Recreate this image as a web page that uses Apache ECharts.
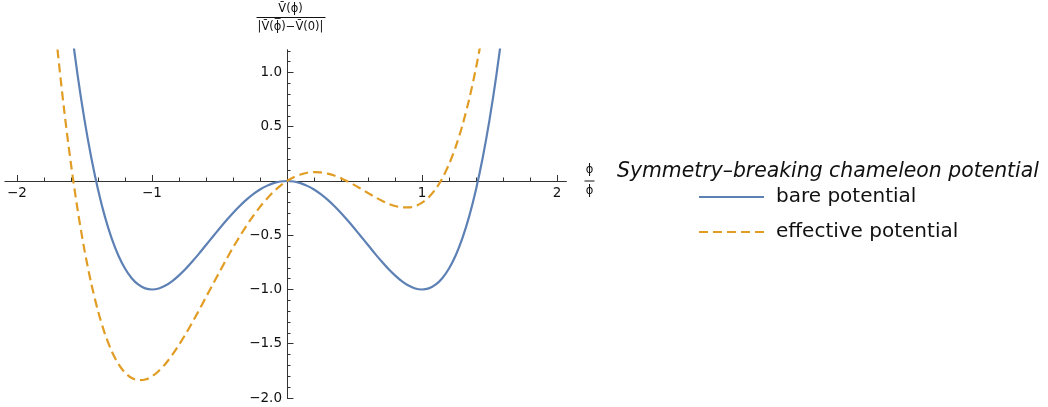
<!DOCTYPE html>
<html>
<head>
<meta charset="utf-8">
<script src="https://cdn.jsdelivr.net/npm/echarts@6/dist/echarts.min.js"></script>
<style>
  html, body { margin: 0; padding: 0; background: #fff; }
  #chart { width: 1048px; height: 407px; }
</style>
</head>
<body>
<div id="chart"></div>
<script>
// Field values ϕ/ϕ̄ at which both potentials are sampled
const phi = [
  -1.75, -1.70, -1.65, -1.60, -1.55, -1.50, -1.45, -1.40, -1.35, -1.30,
  -1.25, -1.20, -1.15, -1.10, -1.05, -1.00, -0.95, -0.90, -0.85, -0.80,
  -0.75, -0.70, -0.65, -0.60, -0.55, -0.50, -0.45, -0.40, -0.35, -0.30,
  -0.25, -0.20, -0.15, -0.10, -0.05, 0.00, 0.05, 0.10, 0.15, 0.20,
  0.25, 0.30, 0.35, 0.40, 0.45, 0.50, 0.55, 0.60, 0.65, 0.70,
  0.75, 0.80, 0.85, 0.90, 0.95, 1.00, 1.05, 1.10, 1.15, 1.20,
  1.25, 1.30, 1.35, 1.40, 1.45, 1.50, 1.55, 1.60, 1.65, 1.70, 1.75
];

// Bare (symmetric double-well) potential
const bare = [
  3.254, 2.572, 1.967, 1.434, 0.967, 0.563, 0.216, -0.078, -0.324, -0.524,
  -0.684, -0.806, -0.896, -0.956, -0.990, -1.000, -0.991, -0.964, -0.923, -0.870,
  -0.809, -0.740, -0.667, -0.590, -0.514, -0.438, -0.364, -0.294, -0.230, -0.172,
  -0.121, -0.078, -0.045, -0.020, -0.005, 0.000, -0.005, -0.020, -0.045, -0.078,
  -0.121, -0.172, -0.230, -0.294, -0.364, -0.438, -0.514, -0.590, -0.667, -0.740,
  -0.809, -0.870, -0.923, -0.964, -0.991, -1.000, -0.990, -0.956, -0.896, -0.806,
  -0.684, -0.524, -0.324, -0.078, 0.216, 0.563, 0.967, 1.434, 1.967, 2.572, 3.254
];

// Effective (tilted) potential
const effective = [
  1.854, 1.212, 0.647, 0.154, -0.273, -0.638, -0.945, -1.198, -1.404, -1.564,
  -1.684, -1.766, -1.816, -1.836, -1.830, -1.800, -1.751, -1.684, -1.603, -1.510,
  -1.409, -1.300, -1.187, -1.070, -0.954, -0.838, -0.724, -0.614, -0.510, -0.412,
  -0.321, -0.238, -0.165, -0.100, -0.045, 0.000, 0.035, 0.060, 0.076, 0.082,
  0.079, 0.068, 0.050, 0.026, -0.004, -0.038, -0.074, -0.110, -0.147, -0.180,
  -0.209, -0.230, -0.243, -0.244, -0.231, -0.200, -0.150, -0.076, 0.024, 0.154,
  0.316, 0.516, 0.757, 1.042, 1.376, 1.763, 2.207, 2.714, 3.287, 3.932, 4.654
];

// Tick positions
const xMajorTicks = [-2, -1, 1, 2];
const xMinorTicks = [-1.8, -1.6, -1.4, -1.2, -0.8, -0.6, -0.4, -0.2,
                     0.2, 0.4, 0.6, 0.8, 1.2, 1.4, 1.6, 1.8];
const yMajorTicks = [-2, -1.5, -1, -0.5, 0.5, 1];
const yMinorTicks = [-1.9, -1.8, -1.7, -1.6, -1.4, -1.3, -1.2, -1.1,
                     -0.9, -0.8, -0.7, -0.6, -0.4, -0.3, -0.2, -0.1,
                     0.1, 0.2, 0.3, 0.4, 0.6, 0.7, 0.8, 0.9, 1.1, 1.2];

const seriesNames = ['bare potential', 'effective potential'];
const legendTitle = 'Symmetry\u2013breaking chameleon potential';

const X_MIN = -2.09, X_MAX = 2.07, Y_MIN = -2.0, Y_MAX = 1.21;
const FONT = 'DejaVu Sans';
const AXIS_COLOR = '#333';
const TEXT_COLOR = '#111';

// Plot frame in pixels; the axes cross at the origin inside it
const PLOT = { left: 4.85, top: 49.7, width: 561.6, height: 348.3 };
const originX = PLOT.left + PLOT.width * (0 - X_MIN) / (X_MAX - X_MIN);
const originY = PLOT.top + PLOT.height * (Y_MAX - 0) / (Y_MAX - Y_MIN);

const minus = s => String(s).replace('-', '\u2212');
const pairs = ys => phi.map((x, i) => [x, ys[i]]);

const gridBase = { containLabel: false, outerBoundsMode: 'none' };
// 0: data area, 1-2: horizontal axis (bottom edge on y = 0), 3-4: vertical axis (left edge on x = 0)
const grids = [
  Object.assign({}, gridBase, PLOT),
  Object.assign({}, gridBase, { left: PLOT.left, width: PLOT.width, top: PLOT.top, height: originY - PLOT.top }),
  Object.assign({}, gridBase, { left: PLOT.left, width: PLOT.width, top: PLOT.top, height: originY - PLOT.top }),
  Object.assign({}, gridBase, { left: originX, width: PLOT.left + PLOT.width - originX, top: PLOT.top, height: PLOT.height }),
  Object.assign({}, gridBase, { left: originX, width: PLOT.left + PLOT.width - originX, top: PLOT.top, height: PLOT.height })
];

const hiddenAxis = (gridIndex) => ({ type: 'value', gridIndex, show: false, min: 0, max: 1 });
const tickStyle = { color: AXIS_COLOR, width: 1 };

const xAxes = [
  { type: 'value', gridIndex: 0, show: false, min: X_MIN, max: X_MAX },
  {
    type: 'value', gridIndex: 1, position: 'bottom', min: X_MIN, max: X_MAX,
    splitLine: { show: false },
    axisLine: { show: true, onZero: false, lineStyle: { color: AXIS_COLOR, width: 1 } },
    axisTick: { show: true, inside: true, length: 6, customValues: xMajorTicks, lineStyle: tickStyle },
    axisLabel: {
      show: true, customValues: xMajorTicks, margin: 6,
      fontFamily: FONT, fontSize: 13.5, color: TEXT_COLOR,
      formatter: v => minus(v)
    }
  },
  {
    type: 'value', gridIndex: 2, position: 'bottom', min: X_MIN, max: X_MAX,
    splitLine: { show: false },
    axisLine: { show: false, onZero: false },
    axisTick: { show: true, inside: true, length: 3.5, customValues: xMinorTicks, lineStyle: tickStyle },
    axisLabel: { show: false }
  },
  hiddenAxis(3),
  hiddenAxis(4)
];

const yAxes = [
  { type: 'value', gridIndex: 0, show: false, min: Y_MIN, max: Y_MAX },
  hiddenAxis(1),
  hiddenAxis(2),
  {
    type: 'value', gridIndex: 3, position: 'left', min: Y_MIN, max: Y_MAX,
    splitLine: { show: false },
    axisLine: { show: true, onZero: false, lineStyle: { color: AXIS_COLOR, width: 1 } },
    axisTick: { show: true, inside: true, length: 6.5, customValues: yMajorTicks, lineStyle: tickStyle },
    axisLabel: {
      show: true, customValues: yMajorTicks, margin: 5,
      fontFamily: FONT, fontSize: 13.5, color: TEXT_COLOR,
      formatter: v => minus(Number(v).toFixed(1))
    }
  },
  {
    type: 'value', gridIndex: 4, position: 'left', min: Y_MIN, max: Y_MAX,
    splitLine: { show: false },
    axisLine: { show: false, onZero: false },
    axisTick: { show: true, inside: true, length: 3.5, customValues: yMinorTicks, lineStyle: tickStyle },
    axisLabel: { show: false }
  }
];

const chart = echarts.init(document.getElementById('chart'), null, { renderer: 'canvas' });

chart.setOption({
  animation: false,
  backgroundColor: '#fff',
  grid: grids,
  xAxis: xAxes,
  yAxis: yAxes,
  title: {
    text: legendTitle,
    left: 617, top: 162, padding: 0,
    textStyle: { fontFamily: FONT, fontSize: 20.4, fontStyle: 'italic', fontWeight: 'normal', color: TEXT_COLOR }
  },
  legend: {
    orient: 'vertical',
    left: 698, top: 187, padding: 0,
    itemWidth: 65, itemHeight: 14, itemGap: 15,
    data: seriesNames,
    itemStyle: { opacity: 0 },
    textStyle: { fontFamily: FONT, fontSize: 20, color: TEXT_COLOR, padding: [0, 0, 0, 7] }
  },
  graphic: [
    // vertical axis title: V̄(ϕ) / |V̄(ϕ̄) − V̄(0)|
    {
      type: 'group', left: 254, top: 3,
      children: [
        { type: 'text', x: 34, y: 0, style: { text: 'V\u0304(\u03d5)', fontFamily: FONT, fontSize: 11.5, fill: TEXT_COLOR, align: 'center' } },
        { type: 'line', shape: { x1: 0, y1: 14.5, x2: 69, y2: 14.5 }, style: { stroke: TEXT_COLOR, lineWidth: 1 } },
        { type: 'text', x: 34, y: 18, style: { text: '|V\u0304(\u03d5\u0305)\u2212V\u0304(0)|', fontFamily: FONT, fontSize: 11.5, fill: TEXT_COLOR, align: 'center' } }
      ]
    },
    // horizontal axis title: ϕ / ϕ̄
    {
      type: 'group', left: 582, top: 164,
      children: [
        { type: 'text', x: 6, y: 0, style: { text: '\u03d5', fontFamily: FONT, fontSize: 11.5, fill: TEXT_COLOR, align: 'center' } },
        { type: 'line', shape: { x1: 1, y1: 17, x2: 11, y2: 17 }, style: { stroke: TEXT_COLOR, lineWidth: 1 } },
        { type: 'text', x: 6, y: 21, style: { text: '\u03d5', fontFamily: FONT, fontSize: 11.5, fill: TEXT_COLOR, align: 'center' } }
      ]
    }
  ],
  series: [
    {
      name: seriesNames[0], type: 'line', xAxisIndex: 0, yAxisIndex: 0,
      data: pairs(bare), showSymbol: false, symbol: 'none', smooth: 0.3, clip: true,
      lineStyle: { color: '#5e81b5', width: 2.2 }, itemStyle: { color: '#5e81b5' }, z: 3
    },
    {
      name: seriesNames[1], type: 'line', xAxisIndex: 0, yAxisIndex: 0,
      data: pairs(effective), showSymbol: false, symbol: 'none', smooth: 0.3, clip: true,
      lineStyle: { color: '#e19c24', width: 2.2, type: [9, 5] }, itemStyle: { color: '#e19c24' }, z: 3
    }
  ]
});
</script>
</body>
</html>
